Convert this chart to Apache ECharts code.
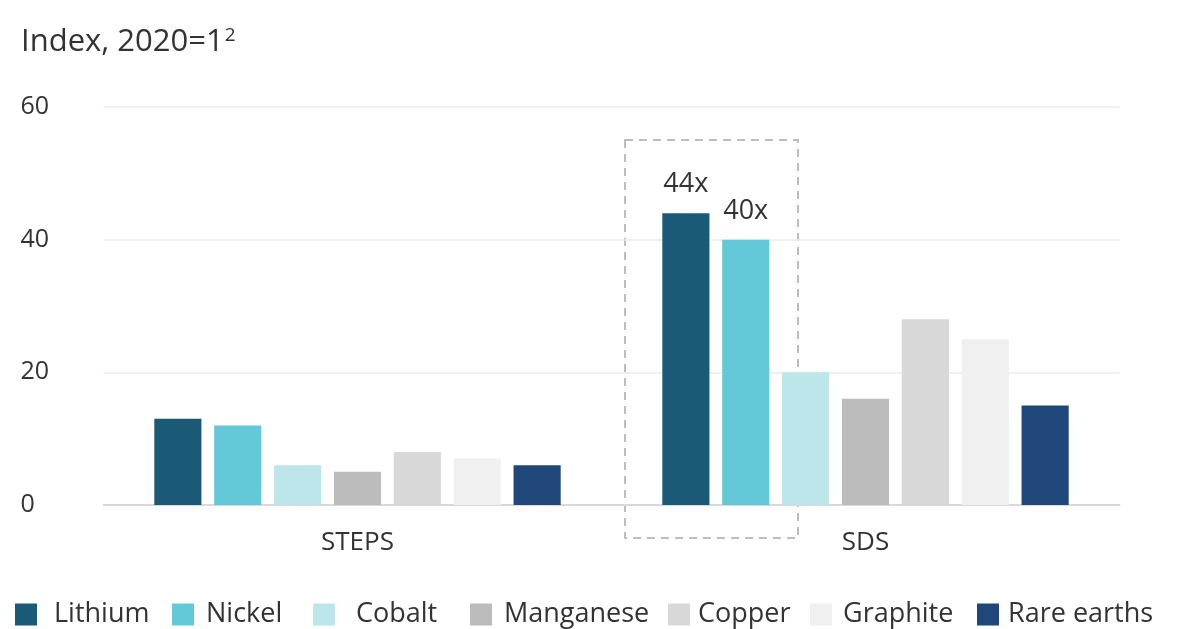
<!DOCTYPE html>
<html>
<head>
<meta charset="utf-8">
<script src="https://cdn.jsdelivr.net/npm/echarts@6/dist/echarts.min.js"></script>
<style>
  html, body { margin: 0; padding: 0; background: #ffffff; }
  #chart { width: 1190px; height: 629px; }
</style>
</head>
<body>
<div id="chart"></div>
<script>
// Scenario groups on the x axis
const scenarios = ['STEPS', 'SDS'];

// Mineral demand index per scenario (2020 = 1)
const lithium    = [13, 44];
const nickel     = [12, 40];
const cobalt     = [6, 20];
const manganese  = [5, 16];
const copper     = [8, 28];
const graphite   = [7, 25];
const rareEarths = [6, 15];

const minerals = ['Lithium', 'Nickel', 'Cobalt', 'Manganese', 'Copper', 'Graphite', 'Rare earths'];
const colors = ['#1a5a76', '#63c8d7', '#bde6eb', '#bcbcbc', '#d8d8d8', '#f0f0f0', '#1f4779'];
const values = [lithium, nickel, cobalt, manganese, copper, graphite, rareEarths];

// Only the SDS lithium and nickel bars carry a value label
const labelled = { Lithium: [1], Nickel: [1] };

// Y axis tick values
const yTicks = [0, 20, 40, 60];

const FONT = 'Open Sans';
const TXT = '#333333';

// Legend item left edges (one legend per mineral so spacing is fixed)
const legendLeft = [15, 172, 313, 470, 668, 810, 977];
const legendTextPad = [12, 7, 16, 7, 3, 6, 4];

const series = minerals.map((name, i) => ({
  name: name,
  type: 'bar',
  barGap: '27%',
  barCategoryGap: '20%',
  itemStyle: { color: colors[i] },
  data: values[i].map((v, j) => {
    const show = (labelled[name] || []).includes(j);
    return show ? {
      value: v,
      label: {
        show: true, position: 'top', distance: 15,
        formatter: '{c}x', color: TXT, fontFamily: FONT, fontSize: 27
      }
    } : v;
  })
}));

const legends = minerals.map((name, i) => ({
  data: [name],
  left: legendLeft[i],
  top: 601,
  padding: 0,
  itemWidth: 22,
  itemHeight: 22,
  icon: 'rect',
  selectedMode: false,
  textStyle: { color: TXT, fontFamily: FONT, fontSize: 27, padding: [0, 0, 0, legendTextPad[i]] }
}));

const chart = echarts.init(document.getElementById('chart'), null, { renderer: 'canvas' });
chart.setOption({
  animation: false,
  backgroundColor: '#ffffff',
  color: colors,
  title: {
    text: 'Index, 2020=1{sup|2}',
    left: 21,
    top: 26,
    padding: 0,
    textStyle: {
      color: TXT, fontFamily: FONT, fontSize: 31, fontWeight: 'normal',
      rich: { sup: { fontSize: 19, verticalAlign: 'top', padding: [0, 0, 14, 1], color: TXT, fontFamily: FONT } }
    }
  },
  legend: legends,
  grid: { left: 103.5, right: 70.5, top: 107, bottom: 124, containLabel: false },
  xAxis: {
    type: 'category',
    data: scenarios,
    axisLine: { show: true, lineStyle: { color: '#d9d9d9', width: 2 } },
    axisTick: { show: false },
    axisLabel: { color: TXT, fontFamily: FONT, fontSize: 26, margin: 25 }
  },
  yAxis: {
    type: 'value',
    min: yTicks[0],
    max: yTicks[yTicks.length - 1],
    interval: 20,
    axisLine: { show: false },
    axisTick: { show: false },
    splitLine: { lineStyle: { color: '#ebebeb', width: 1.5 } },
    axisLabel: { color: TXT, fontFamily: FONT, fontSize: 25, align: 'left', margin: 83 }
  },
  graphic: [{
    type: 'rect',
    shape: { x: 625, y: 140, width: 173, height: 398 },
    style: { fill: 'none', stroke: '#bdbdbd', lineWidth: 2, lineDash: [8, 6] },
    silent: true
  }],
  series: series
});
</script>
</body>
</html>
